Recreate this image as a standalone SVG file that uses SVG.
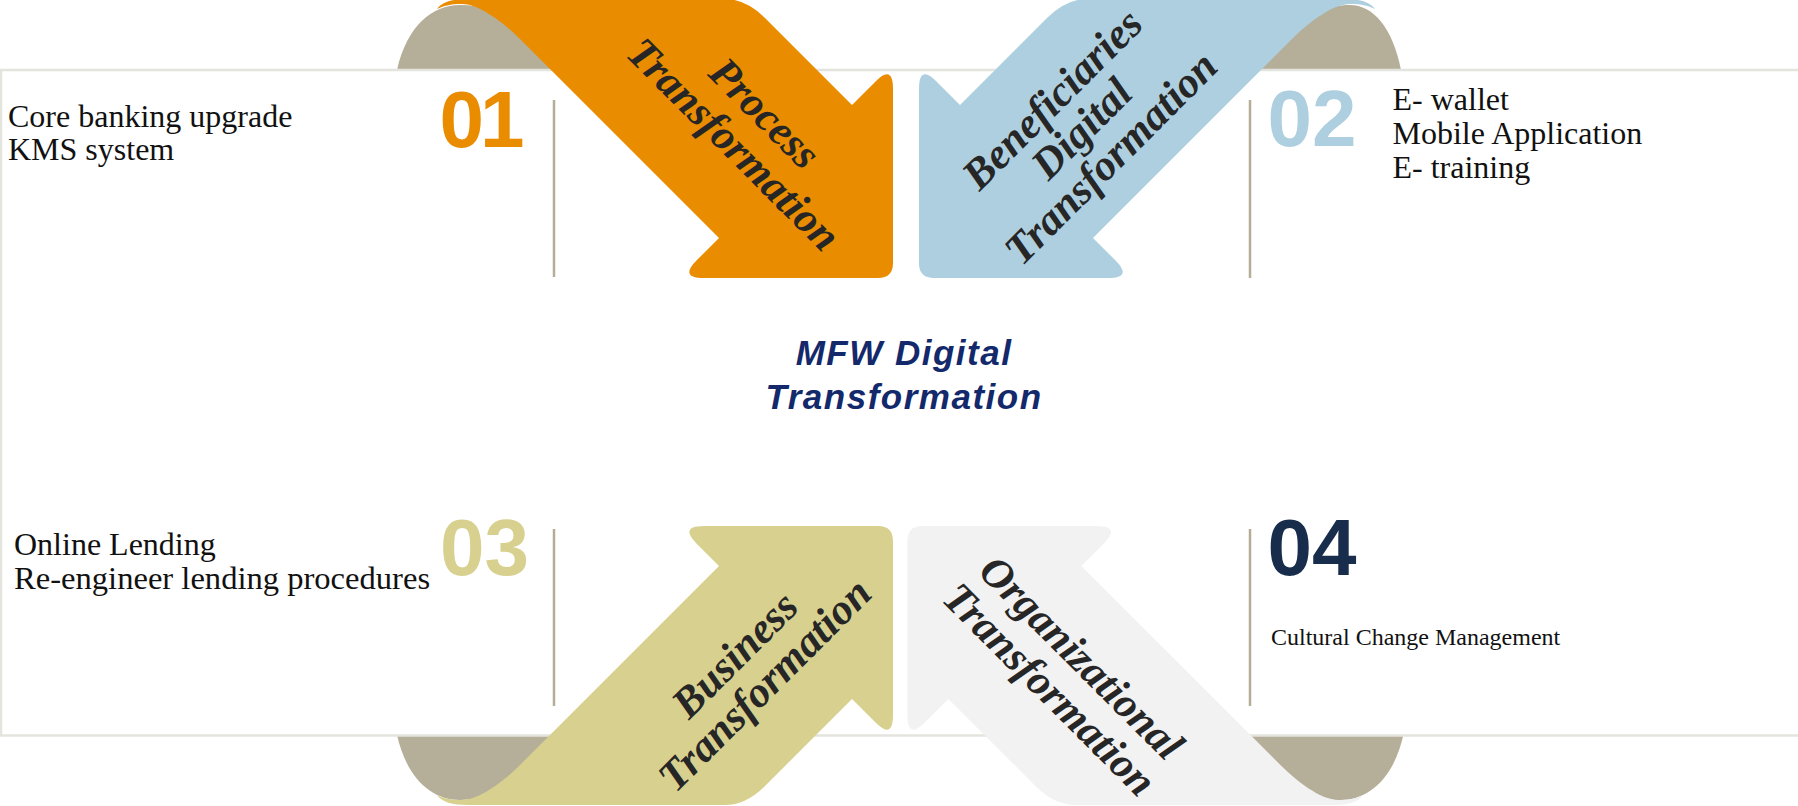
<svg xmlns="http://www.w3.org/2000/svg" xmlns:xlink="http://www.w3.org/1999/xlink" width="1798" height="806" viewBox="0 0 1798 806">
<style>
.tan{fill:#B5AE98}
.sep{stroke:#B5AD96;stroke-width:2.5}
.border{fill:none;stroke:#E4E4DE;stroke-width:2.5}
.lbl{font-family:"Liberation Serif","DejaVu Serif",serif;font-weight:bold;font-style:italic;font-size:43px;fill:#262626;text-anchor:middle}
.body{font-family:"Liberation Serif","DejaVu Serif",serif;font-size:32px;fill:#111}
.num{font-family:"Liberation Sans",Arial,sans-serif;font-weight:bold;font-size:80px}
.title{font-family:"Liberation Sans",Arial,sans-serif;font-weight:bold;font-style:italic;font-size:35px;letter-spacing:1.5px;fill:#13296B;text-anchor:middle}
</style>
<defs>
<path id="arrowShape" d="M852 105 L875.3 81.7 Q893 64 893 89 L893 263 Q893 278 878 278 L704 278 Q679 278 696.7 260.3 L719 238 L520 39 C505 24 480 4 462 4 C450 4 443 6 437 9 C442 2 452 -1 468 -1 L725 -1 Q746 -1 765 18 Z"/>
<path id="tanLeft" d="M397 70 C407 26 432 5 460 5 C485 5 500 14 515 30 L556 70 Z"/>
</defs>
<rect x="0" y="0" width="1798" height="806" fill="#FFFFFF"/>
<g id="tans">
<use xlink:href="#tanLeft" class="tan"/>
<path class="tan" d="M1401 70 C1393 28 1373 5 1350 5 C1327 5 1312 14 1297 30 L1256 70 Z"/>
<use xlink:href="#tanLeft" class="tan" transform="translate(0 805) scale(1 -1)"/>
<use xlink:href="#tanLeft" class="tan" transform="translate(1800.4 805) scale(-1 -1)"/>
</g>
<rect class="border" x="1" y="70" width="1810" height="665.5"/>
<g id="connectors">
<line class="sep" x1="554" y1="100" x2="554" y2="277"/>
<line class="sep" x1="1250" y1="100" x2="1250" y2="278"/>
<line class="sep" x1="554" y1="529" x2="554" y2="706"/>
<line class="sep" x1="1250" y1="529" x2="1250" y2="706"/>
</g>
<g id="process">
<use xlink:href="#arrowShape" fill="#EA8C00"/>
<text class="lbl" transform="translate(749.5 128.5) rotate(45)"><tspan x="0" y="-7.5">Process</tspan><tspan x="0" y="36.5">Transformation</tspan></text>
</g>
<g id="beneficiaries">
<use xlink:href="#arrowShape" fill="#AECFDF" transform="translate(1812 0) scale(-1 1)"/>
<text class="lbl" transform="translate(1081.3 128.3) rotate(-45)"><tspan x="0" y="-27">Beneficiaries</tspan><tspan x="0" y="14.5">Digital</tspan><tspan x="0" y="56">Transformation</tspan></text>
</g>
<g id="business">
<use xlink:href="#arrowShape" fill="#D8D08F" transform="translate(0 804) scale(1 -1)"/>
<text class="lbl" transform="translate(749.5 669.5) rotate(-45)"><tspan x="0" y="-6.7">Business</tspan><tspan x="0" y="35.7">Transformation</tspan></text>
</g>
<g id="organizational">
<use xlink:href="#arrowShape" fill="#F2F2F2" transform="translate(1800.4 804) scale(-1 -1)"/>
<text class="lbl" transform="translate(1065.8 673.3) rotate(45)"><tspan x="0" y="-8">Organizational</tspan><tspan x="0" y="37">Transformation</tspan></text>
</g>
<g id="panel01">
<text class="num" x="439.5" y="147" fill="#EA8C00" style="letter-spacing:-4px">01</text>
<text class="body" x="8" y="126.5">Core banking upgrade</text>
<text class="body" x="8" y="160">KMS system</text>
</g>
<g id="panel02">
<text class="num" x="1267.5" y="146" fill="#AECFDF">02</text>
<text class="body" x="1392.5" y="110">E- wallet</text>
<text class="body" x="1392.5" y="144">Mobile Application</text>
<text class="body" x="1392.5" y="178">E- training</text>
</g>
<g id="panel03">
<text class="num" x="440" y="575" fill="#D8D08F">03</text>
<text class="body" x="14" y="555">Online Lending</text>
<text class="body" x="14" y="588.5" style="font-size:32.6px">Re-engineer lending procedures</text>
</g>
<g id="panel04">
<text class="num" x="1267.5" y="575" fill="#172D4B">04</text>
<text class="body" x="1271" y="645" style="font-size:24px">Cultural Change Management</text>
</g>
<g id="center">
<text class="title" x="904" y="365">MFW Digital</text>
<text class="title" x="904" y="408.5">Transformation</text>
</g>
</svg>
